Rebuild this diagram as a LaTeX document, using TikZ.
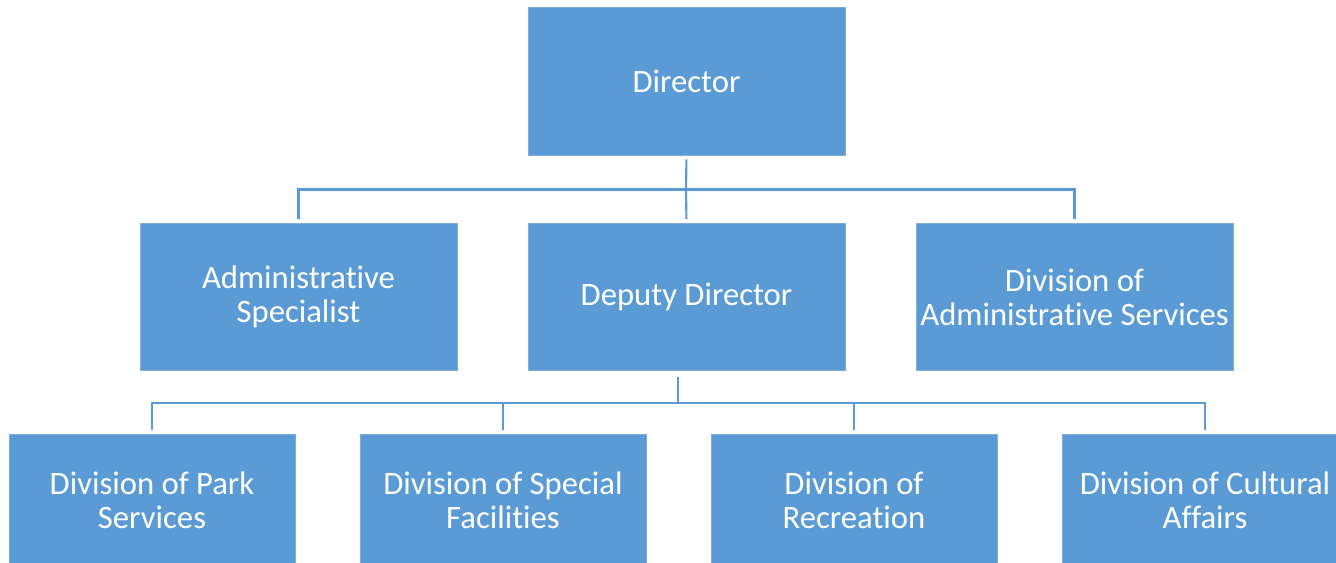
\documentclass[tikz,border=0pt]{standalone}
\usepackage{fontspec}
\setmainfont{Carlito}[Ligatures={NoCommon}]
\usepackage{tikz}
\usetikzlibrary{positioning, calc}

\definecolor{boxblue}{HTML}{5B9BD5}

\begin{document}
\begin{tikzpicture}[
    x=0.75pt, y=-0.75pt,
    unit/.style={rectangle, fill=boxblue, draw=boxblue!80!white, line width=0.4pt, text=white,
        inner sep=0pt, align=center, font=\fontsize{24.5}{25.5}\selectfont},
    upper/.style={unit, minimum width=237.75pt, minimum height=110.6pt},
    lower/.style={unit, minimum width=214.5pt, minimum height=99pt},
    link/.style={draw=boxblue, line width=1.6pt, shorten >=3pt}
]
\useasboundingbox (0,0) rectangle (1336,563);
\clip (0,0) rectangle (1336,563);

% --- Top and middle level ---
\node[upper] (dir) at (686.5,81.5) {Director};
\node[upper] (spec) at (298.5,297) {Administrative\\Specialist};
\node[upper] (dep) at (686.5,297) {Deputy Director};
\node[upper] (das) at (1074.5,297) {Division of\\Administrative Services};

% --- Divisions under the deputy ---
\node[lower] (park) at (152,500) {Division of Park\\Services};
\node[lower] (fac) at (503,500) {Division of Special\\Facilities};
\node[lower] (rec) at (854,500) {Division of\\Recreation};
\node[lower] (cult) at (1205,500) {Division of Cultural\\Affairs};

% --- Connectors from the director ---
\coordinate (bus1) at (686,189.5);
\draw[link, shorten <=3pt, shorten >=0pt] (dir.south) -- (bus1);
\draw[link] (bus1) -| (spec.north);
\draw[link] (bus1) -- (dep.north);
\draw[link] (bus1) -| (das.north);

% --- Connectors from the deputy director ---
\coordinate (top2) at (678,377);
\coordinate (bus2) at (678,403);
\draw[link, shorten >=0pt] (top2) -- (bus2);
\foreach \d in {park, fac, rec, cult} {
    \draw[link] (bus2) -| (\d.north);
}

\end{tikzpicture}
\end{document}
